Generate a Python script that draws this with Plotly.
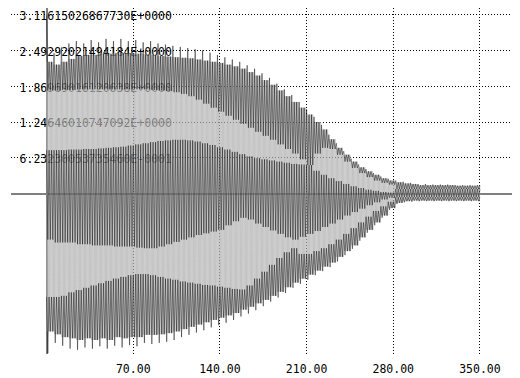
import plotly.graph_objects as go

# ---- data: one oscillation cycle = 6 units ----
# per-cycle values
peak_hi = [3.11, 2.45, 2.55, 2.62, 2.66, 2.62, 2.68, 2.64, 2.70, 2.66,
           2.70, 2.66, 2.68, 2.64, 2.66, 2.62, 2.60, 2.58, 2.56, 2.54,
           2.52, 2.50, 2.46, 2.42, 2.38, 2.34, 2.30, 2.24, 2.18, 2.10,
           2.02, 1.92, 1.82, 1.72, 1.60, 1.47, 1.34, 1.20, 1.03, 0.88,
           0.74, 0.61, 0.51, 0.43, 0.36, 0.30, 0.26, 0.23, 0.21, 0.19,
           0.17, 0.17, 0.16, 0.16, 0.16, 0.15, 0.15, 0.15, 0.15]
hi_second = [2.30, 2.25, 2.30, 2.35, 2.40, 2.42, 2.42, 2.44, 2.44, 2.45,
             2.45, 2.45, 2.44, 2.43, 2.42, 2.40, 2.39, 2.38, 2.37, 2.36,
             2.34, 2.32, 2.30, 2.28, 2.25, 2.22, 2.18, 2.12, 2.06, 1.98,
             1.90, 1.80, 1.70, 1.60, 1.50, 1.38, 1.25, 1.12, 0.95, 0.80,
             0.68, 0.56, 0.46, 0.39, 0.33, 0.27, 0.23, 0.20, 0.18, 0.17,
             0.15, 0.15, 0.15, 0.15, 0.15, 0.14, 0.14, 0.14, 0.14]
# upper light band (top edge / bottom edge)
upper_light_top = [1.80, 1.80, 1.81, 1.81, 1.82, 1.82, 1.82, 1.82, 1.82, 1.82,
                   1.82, 1.82, 1.82, 1.82, 1.81, 1.80, 1.79, 1.77, 1.74, 1.70,
                   1.64, 1.57, 1.50, 1.43, 1.36, 1.29, 1.22, 1.15, 1.08, 1.01,
                   0.94, 0.86, 0.78, 0.70, 0.60, 0.50, 0.70, 0.80, 0.78, 0.68,
                   0.56, 0.45, 0.36, 0.29, 0.23, 0.19, 0.16, 0.08, 0.08, 0.08,
                   0.08, 0.08, 0.08, 0.08, 0.08, 0.08, 0.08, 0.08, 0.08]
upper_light_bot = [0.76, 0.76, 0.76, 0.77, 0.77, 0.78, 0.78, 0.79, 0.80, 0.81,
                   0.82, 0.84, 0.86, 0.88, 0.90, 0.92, 0.93, 0.94, 0.94, 0.93,
                   0.91, 0.88, 0.85, 0.81, 0.77, 0.73, 0.69, 0.65, 0.62, 0.60,
                   0.58, 0.56, 0.54, 0.52, 0.51, 0.50, 0.40, 0.33, 0.27, 0.22,
                   0.17, 0.13, 0.10, 0.07, 0.05, 0.03, 0.02, 0.08, 0.08, 0.08,
                   0.08, 0.08, 0.08, 0.08, 0.08, 0.08, 0.08, 0.08, 0.08]
# lower light band (top edge / bottom edge)
lower_light_top = [-0.80, -0.85, -0.85, -0.85, -0.88, -0.88, -0.90, -0.90, -0.90, -0.92,
                   -0.92, -0.92, -0.94, -0.95, -0.95, -0.92, -0.88, -0.84, -0.80, -0.76,
                   -0.72, -0.69, -0.66, -0.63, -0.55, -0.48, -0.42, -0.45, -0.52, -0.58,
                   -0.64, -0.70, -0.76, -0.80, -0.75, -0.70, -0.65, -0.58, -0.52, -0.45,
                   -0.38, -0.32, -0.26, -0.20, -0.15, -0.10, -0.07, -0.06, -0.06, -0.06,
                   -0.06, -0.06, -0.06, -0.06, -0.06, -0.06, -0.06, -0.06, -0.06]
lower_light_bot = [-1.80, -1.80, -1.78, -1.72, -1.68, -1.64, -1.60, -1.56, -1.52, -1.48,
                   -1.45, -1.42, -1.40, -1.40, -1.42, -1.45, -1.48, -1.50, -1.53, -1.55,
                   -1.57, -1.59, -1.60, -1.62, -1.64, -1.66, -1.67, -1.60, -1.48, -1.36,
                   -1.24, -1.12, -1.02, -0.95, -1.05, -1.05, -1.00, -0.95, -0.88, -0.80,
                   -0.70, -0.60, -0.50, -0.40, -0.30, -0.22, -0.14, -0.06, -0.06, -0.06,
                   -0.06, -0.06, -0.06, -0.06, -0.06, -0.06, -0.06, -0.06, -0.06]
peak_lo = [-2.78, -2.60, -2.65, -2.70, -2.72, -2.68, -2.70, -2.66, -2.70, -2.65,
           -2.68, -2.64, -2.66, -2.60, -2.62, -2.60, -2.58, -2.55, -2.50, -2.46,
           -2.42, -2.38, -2.33, -2.29, -2.25, -2.20, -2.14, -2.09, -2.03, -1.96,
           -1.88, -1.81, -1.73, -1.64, -1.57, -1.50, -1.42, -1.35, -1.28, -1.18,
           -1.07, -0.96, -0.82, -0.68, -0.55, -0.42, -0.28, -0.18, -0.15, -0.14,
           -0.13, -0.13, -0.13, -0.13, -0.13, -0.13, -0.13, -0.13, -0.13]
lo_second = [-2.40, -2.45, -2.50, -2.52, -2.55, -2.52, -2.55, -2.52, -2.55, -2.50,
             -2.52, -2.50, -2.50, -2.46, -2.46, -2.45, -2.43, -2.40, -2.36, -2.32,
             -2.28, -2.24, -2.20, -2.16, -2.12, -2.08, -2.02, -1.97, -1.91, -1.85,
             -1.78, -1.71, -1.63, -1.55, -1.48, -1.41, -1.34, -1.27, -1.20, -1.10,
             -1.00, -0.90, -0.76, -0.63, -0.50, -0.38, -0.25, -0.16, -0.13, -0.12,
             -0.12, -0.12, -0.12, -0.12, -0.12, -0.12, -0.12, -0.12, -0.12]

cycle_len = 6.0
x_max = 350
x_ticks = [70, 140, 210, 280, 350]
x_tick_text = ["70.00", "140.00", "210.00", "280.00", "350.00"]
y_ticks = [3.1161502686773, 2.49292021494184, 1.86969016120638,
           1.24646010747092, 0.62323005373546]
y_tick_text = ["3.11615026867730E+0000", "2.49292021494184E+0000",
               "1.86969016120638E+0000", "1.24646010747092E+0000",
               "6.23230053735460E-0001"]

cycles = [dict(T=a, Tg=b, A=c, C=d, U=e, L=f, B=g, Bg=h) for a, b, c, d, e, f, g, h in
          zip(peak_hi, hi_second, upper_light_top, upper_light_bot,
              lower_light_top, lower_light_bot, peak_lo, lo_second)]


def series(order):
    """sample values of every cycle in the given order, evenly spaced in the cycle"""
    ys = []
    for v in cycles:
        ys.extend(v[k] for k in order)
    step = cycle_len / len(order)
    xs = [i * step for i in range(len(ys))]
    keep = [i for i, x in enumerate(xs) if x <= x_max]
    return [xs[i] for i in keep], [ys[i] for i in keep]


parts = [
    (series(["Tg", "Bg"] * 6), "#b4b4b4", 0.6),                  # whole swing
    (series(["T", "A", "Tg", "A", "Tg", "A"]), "black", 0.45),     # top dark
    (series(["C", "U"] * 3), "black", 0.45),                       # centre dark
    (series(["L", "B", "L", "Bg", "L", "Bg"]), "black", 0.45),     # bottom dark
]

Y_RANGE = [-2.794, 3.238]
LABEL_DROP = 0.04  # labels sit ~2px under their grid line

FONT = "DejaVu Sans Mono"
fig = go.Figure()
# y labels on the base axis (drawn first, so the signal overdraws them)
fig.add_trace(go.Scatter(
    x=[-21.8] * len(y_ticks), y=y_ticks, text=y_tick_text, mode="text",
    textposition="middle right", cliponaxis=False, hoverinfo="skip",
    textfont=dict(family=FONT, size=11.5, color="black"), showlegend=False))
for (px, py), col, w in parts:
    fig.add_trace(go.Scatter(x=px, y=py, mode="lines", yaxis="y2",
                             line=dict(color=col, width=w),
                             showlegend=False, hoverinfo="skip"))

GRID_DASH = "1px,2px"
# page has an 8px body margin, so the figure is 8px smaller each way
fig.update_layout(
    width=512, height=370, margin=dict(l=3, r=0, t=0, b=24),
    paper_bgcolor="white", plot_bgcolor="white",
    xaxis=dict(range=[-28.75, 382.36], tickvals=x_ticks, ticktext=x_tick_text,
               showgrid=True, gridcolor="black", griddash=GRID_DASH, gridwidth=1,
               zeroline=True, zerolinecolor="#808080", zerolinewidth=2,
               showline=False, ticks="", ticklabelstandoff=6,
               tickfont=dict(family=FONT, size=11.5, color="black")),
    yaxis=dict(range=[Y_RANGE[0] + LABEL_DROP, Y_RANGE[1] + LABEL_DROP],
               showticklabels=False, showgrid=False, zeroline=False,
               showline=False, ticks=""),
    yaxis2=dict(range=Y_RANGE, overlaying="y", side="left",
                tickvals=y_ticks, showticklabels=False,
                showgrid=True, gridcolor="black", griddash=GRID_DASH, gridwidth=1,
                zeroline=True, zerolinecolor="#808080", zerolinewidth=2,
                showline=False, ticks=""),
)
fig.write_html("out.html")
